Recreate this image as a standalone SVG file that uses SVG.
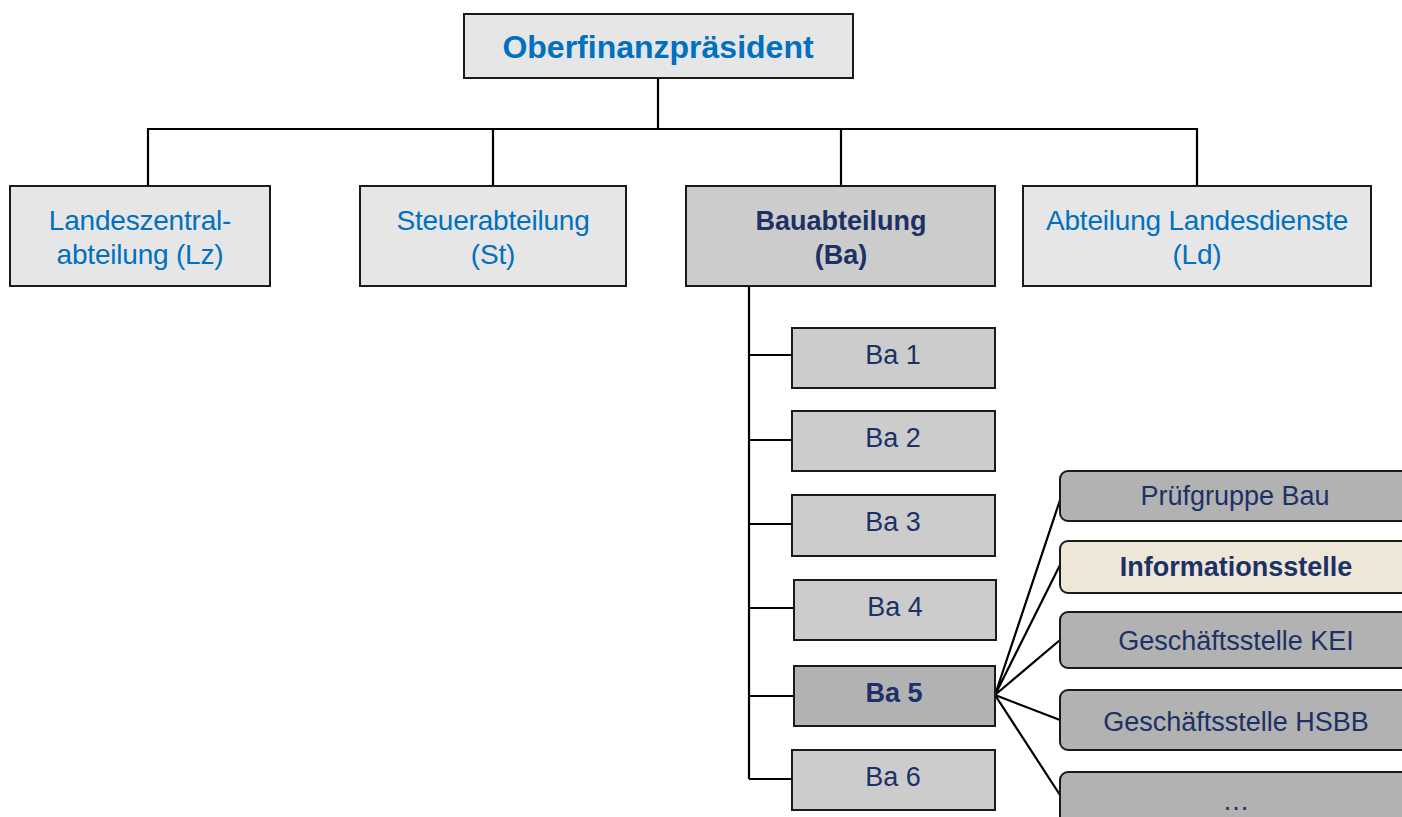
<svg xmlns="http://www.w3.org/2000/svg" width="1402" height="817" viewBox="0 0 1402 817">
<style>
.box{stroke:#1a1a1a;stroke-width:2}
.light{fill:#e6e6e6}
.mid{fill:#cccccc}
.dark{fill:#b2b2b2}
.cream{fill:#eee6d6}
.t{font-family:"Liberation Sans",Arial,sans-serif;text-anchor:middle}
.blue{fill:#0070c0;font-size:28px;letter-spacing:-0.2px}
.navy{fill:#1c3166;font-size:27px}
.b{font-weight:bold}
.conn{stroke:#000;stroke-width:2.2;fill:none}
</style>
<rect width="1402" height="817" fill="#fff"/>
<g id="connectors">
<path class="conn" d="M658 78V129M148 186V129H1197V186M493 129V186M841 129V186"/>
<path class="conn" d="M749 286V779M749 355H792M749 440H792M749 524H792M749 608H794M749 696H794M749 779H792"/>
<path class="conn" d="M995 695L1060 500M995 695L1060 565M995 695L1060 640M995 695L1060 720M995 695L1060 795"/>
</g>
<g id="n-ofp"><rect class="box light" x="464" y="14" width="389" height="64"/><text class="t b" x="658" y="58" font-size="32" fill="#0070c0">Oberfinanzpräsident</text></g>
<g id="n-lz"><rect class="box light" x="10" y="186" width="260" height="100"/><text class="t blue" x="140" y="230">Landeszentral-</text><text class="t blue" x="140" y="264">abteilung (Lz)</text></g>
<g id="n-st"><rect class="box light" x="360" y="186" width="266" height="100"/><text class="t blue" x="493" y="230">Steuerabteilung</text><text class="t blue" x="493" y="264">(St)</text></g>
<g id="n-ba"><rect class="box mid" x="686" y="186" width="309" height="100"/><text class="t navy b" x="841" y="230">Bauabteilung</text><text class="t navy b" x="841" y="264">(Ba)</text></g>
<g id="n-ld"><rect class="box light" x="1023" y="186" width="348" height="100"/><text class="t blue" x="1197" y="230">Abteilung Landesdienste</text><text class="t blue" x="1197" y="264">(Ld)</text></g>
<g id="n-ba1"><rect class="box mid" x="792" y="328" width="203" height="60"/><text class="t navy" x="893" y="364">Ba 1</text></g>
<g id="n-ba2"><rect class="box mid" x="792" y="411" width="203" height="60"/><text class="t navy" x="893" y="447">Ba 2</text></g>
<g id="n-ba3"><rect class="box mid" x="792" y="495" width="203" height="61"/><text class="t navy" x="893" y="531">Ba 3</text></g>
<g id="n-ba4"><rect class="box mid" x="794" y="580" width="202" height="60"/><text class="t navy" x="895" y="616">Ba 4</text></g>
<g id="n-ba5"><rect class="box dark" x="794" y="666" width="201" height="60"/><text class="t navy b" x="894" y="702">Ba 5</text></g>
<g id="n-ba6"><rect class="box mid" x="792" y="750" width="203" height="60"/><text class="t navy" x="893" y="786">Ba 6</text></g>
<g id="n-pg"><rect class="box dark" x="1060" y="471" width="360" height="50" rx="8"/><text class="t navy" x="1235" y="505">Prüfgruppe Bau</text></g>
<g id="n-info"><rect class="box cream" x="1060" y="541" width="360" height="52" rx="8"/><text class="t navy b" x="1236" y="576">Informationsstelle</text></g>
<g id="n-kei"><rect class="box dark" x="1060" y="612" width="360" height="56" rx="8"/><text class="t navy" x="1236" y="650">Geschäftsstelle KEI</text></g>
<g id="n-hsbb"><rect class="box dark" x="1060" y="690" width="360" height="60" rx="8"/><text class="t navy" x="1236" y="731">Geschäftsstelle HSBB</text></g>
<g id="n-more"><rect class="box dark" x="1060" y="772" width="360" height="60" rx="8"/><text class="t navy" x="1236" y="810">…</text></g>
</svg>
